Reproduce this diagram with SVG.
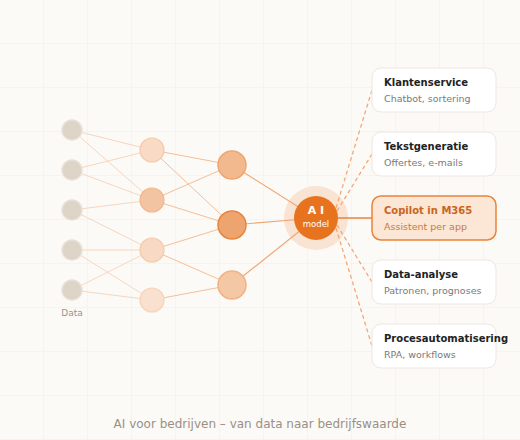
<svg xmlns="http://www.w3.org/2000/svg" width="520" height="440" viewBox="0 0 520 440">
  <defs>
    <pattern id="grid" width="44" height="44" patternUnits="userSpaceOnUse">
      <path d="M44 0 V44 M0 44 H44" fill="none" stroke="#f6ede6" stroke-width="1"/>
    </pattern>
  </defs>
  <style>
    text { font-family: "DejaVu Sans", "Noto Sans", sans-serif; }
    .in { fill: #ddd3c6; stroke: #e9e1d7; stroke-width: 1.5; }
    .c1 { stroke: #f7d6c0; stroke-width: 1; fill: none; }
    .c2 { stroke: #f4be97; stroke-width: 1; fill: none; }
    .c3 { stroke: #f0a673; stroke-width: 1.2; fill: none; }
    .dash { stroke: #f3a878; stroke-width: 1.3; stroke-dasharray: 4 3; fill: none; }
    .card { fill: #ffffff; stroke: #efe6dd; stroke-width: 1; }
    .t { font-size: 10px; font-weight: bold; fill: #222222; }
    .s { font-size: 9.5px; fill: #7a7a7a; }
  </style>
  <rect width="520" height="440" fill="#fcfaf7"/>
  <rect width="520" height="440" fill="url(#grid)"/>

  <g id="ai-halo">
    <circle cx="316" cy="218" r="32" fill="#f9e3d2"/>
  </g>

  <g id="connectors">
    <line class="c1" x1="72" y1="130" x2="152" y2="150"/>
    <line class="c1" x1="72" y1="130" x2="152" y2="200"/>
    <line class="c1" x1="72" y1="170" x2="152" y2="150"/>
    <line class="c1" x1="72" y1="170" x2="152" y2="200"/>
    <line class="c1" x1="72" y1="210" x2="152" y2="200"/>
    <line class="c1" x1="72" y1="210" x2="152" y2="250"/>
    <line class="c1" x1="72" y1="250" x2="152" y2="250"/>
    <line class="c1" x1="72" y1="250" x2="152" y2="300"/>
    <line class="c1" x1="72" y1="290" x2="152" y2="250"/>
    <line class="c1" x1="72" y1="290" x2="152" y2="300"/>
    <line class="c2" x1="152" y1="150" x2="232" y2="165"/>
    <line class="c2" x1="152" y1="150" x2="232" y2="225"/>
    <line class="c2" x1="152" y1="200" x2="232" y2="165"/>
    <line class="c2" x1="152" y1="200" x2="232" y2="225"/>
    <line class="c2" x1="152" y1="250" x2="232" y2="225"/>
    <line class="c2" x1="152" y1="250" x2="232" y2="285"/>
    <line class="c2" x1="152" y1="300" x2="232" y2="285"/>
    <line class="c3" x1="232" y1="165" x2="316" y2="218"/>
    <line class="c3" x1="232" y1="225" x2="316" y2="218"/>
    <line class="c3" x1="232" y1="285" x2="316" y2="218"/>
    <line class="dash" x1="336" y1="208" x2="372" y2="90"/>
    <line class="dash" x1="337" y1="211" x2="372" y2="154"/>
    <line class="dash" x1="337" y1="225" x2="372" y2="282"/>
    <line class="dash" x1="336" y1="228" x2="372" y2="346"/>
    <line x1="316" y1="218" x2="372" y2="218" stroke="#e8843b" stroke-width="1.5"/>
  </g>

  <g id="input-layer">
    <circle class="in" cx="72" cy="130" r="10"/>
    <circle class="in" cx="72" cy="170" r="10"/>
    <circle class="in" cx="72" cy="210" r="10"/>
    <circle class="in" cx="72" cy="250" r="10"/>
    <circle class="in" cx="72" cy="290" r="10"/>
    <text x="72" y="316" font-size="9" fill="#9a918a" text-anchor="middle">Data</text>
  </g>

  <g id="hidden-layer-1">
    <circle cx="152" cy="150" r="12" fill="#f8dac5" stroke="#f4c9a8" stroke-width="1.2"/>
    <circle cx="152" cy="200" r="12" fill="#f3c4a1" stroke="#f2b68a" stroke-width="1.2"/>
    <circle cx="152" cy="250" r="12" fill="#f8d9c3" stroke="#f4c9a8" stroke-width="1.2"/>
    <circle cx="152" cy="300" r="12" fill="#f9e0cf" stroke="#f6d2b8" stroke-width="1.2"/>
  </g>

  <g id="hidden-layer-2">
    <circle cx="232" cy="165" r="14" fill="#f2b98f" stroke="#f0a66f" stroke-width="1.5"/>
    <circle cx="232" cy="225" r="14" fill="#eea46f" stroke="#e8863d" stroke-width="1.5"/>
    <circle cx="232" cy="285" r="14" fill="#f4c7a5" stroke="#f2b284" stroke-width="1.5"/>
  </g>

  <g id="ai-model">
    <circle cx="316" cy="218" r="22" fill="#e8731f"/>
    <text x="316" y="213.5" font-size="11" font-weight="bold" fill="#ffffff" text-anchor="middle">A I</text>
    <text x="316" y="227" font-size="8.5" fill="#ffffff" text-anchor="middle">model</text>
  </g>

  <g id="klantenservice">
    <rect class="card" x="372" y="68" width="124" height="44" rx="9"/>
    <text class="t" x="384" y="86">Klantenservice</text>
    <text class="s" x="384" y="102">Chatbot, sortering</text>
  </g>
  <g id="tekstgeneratie">
    <rect class="card" x="372" y="132" width="124" height="44" rx="9"/>
    <text class="t" x="384" y="150">Tekstgeneratie</text>
    <text class="s" x="384" y="166">Offertes, e-mails</text>
  </g>
  <g id="copilot">
    <rect x="372" y="196" width="124" height="44" rx="9" fill="#fce6d5" stroke="#e8843b" stroke-width="1.5"/>
    <text class="t" x="384" y="214" style="fill:#c9651e">Copilot in M365</text>
    <text class="s" x="384" y="230" style="fill:#c77a44">Assistent per app</text>
  </g>
  <g id="data-analyse">
    <rect class="card" x="372" y="260" width="124" height="44" rx="9"/>
    <text class="t" x="384" y="278">Data-analyse</text>
    <text class="s" x="384" y="294">Patronen, prognoses</text>
  </g>
  <g id="procesautomatisering">
    <rect class="card" x="372" y="324" width="124" height="44" rx="9"/>
    <text class="t" x="384" y="342">Procesautomatisering</text>
    <text class="s" x="384" y="358">RPA, workflows</text>
  </g>

  <text x="260" y="428" font-size="12" fill="#9a8f86" text-anchor="middle">AI voor bedrijven – van data naar bedrijfswaarde</text>
</svg>
